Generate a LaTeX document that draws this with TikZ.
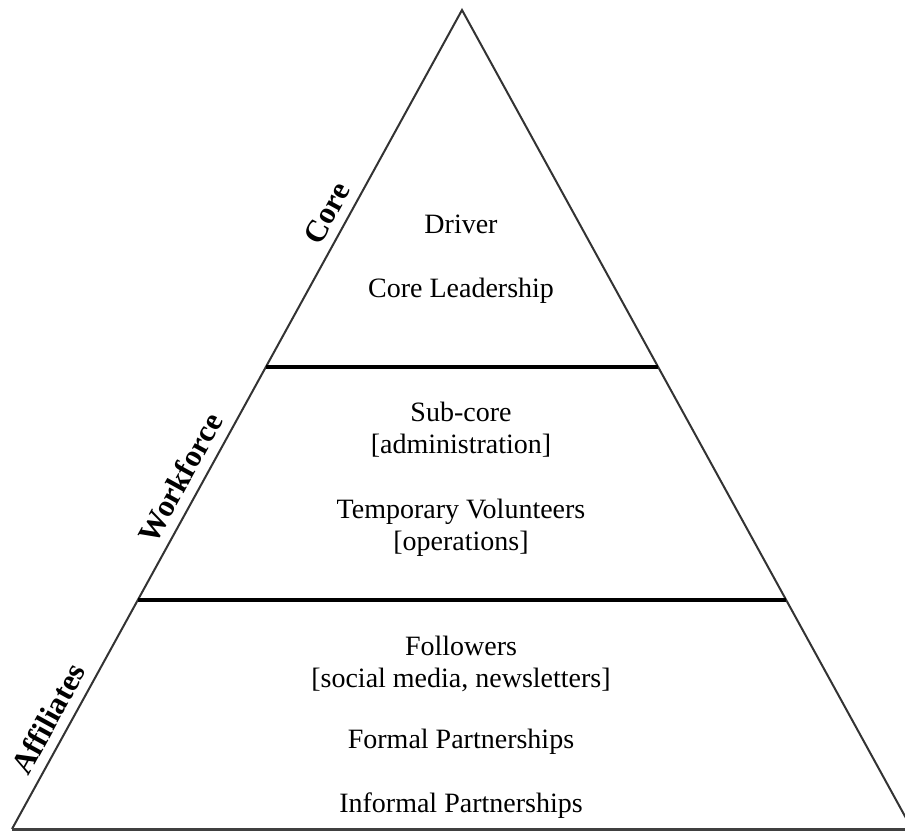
\documentclass[tikz,border=0pt]{standalone}
\usepackage{fontspec}
\setmainfont{Liberation Serif}
\usetikzlibrary{calc}
\tikzset{
  % text inside the tiers
  level/.style={font=\fontsize{14}{15.75}\selectfont, align=center, anchor=base, inner sep=0pt},
  % tier names along the left side
  tier/.style={font=\fontsize{15.5}{18}\selectfont\bfseries, inner sep=1pt},
  % outline and dividers
  side/.style={line width=1pt, black!80},
  divider/.style={line width=1.8pt, black},
}

\begin{document}
\begin{tikzpicture}[x=0.5pt, y=-0.5pt]
  \useasboundingbox (0,0) rectangle (905,831);
  \clip (0,0) rectangle (905,831);

  \coordinate (apex) at (462,10);
  \coordinate (bl) at (12,829);
  \coordinate (br) at (912,829);

  % pyramid
  \draw[side] (bl) -- (apex) -- (br);
  \draw[line width=1.5pt, black!75] (bl) -- (br);

  % tier boundaries
  \draw[divider] ($(bl)!0.5641!(apex)$) -- ($(br)!0.5641!(apex)$);
  \draw[divider] ($(bl)!0.2796!(apex)$) -- ($(br)!0.2796!(apex)$);

  % tier names
  \path (bl) -- (apex)
    node[tier, pos=0.122, sloped, above=4pt] (affil) {Affiliates}
    node[tier, pos=0.416, sloped, above=4pt] (work) {Workforce}
    node[tier, pos=0.74, sloped, above=4pt] (core) {Core};

  % Core
  \node[level] (driver) at (461,233) {Driver};
  \node[level] (lead) at (461,297) {Core Leadership};

  % Workforce (base sits on the last line)
  \node[level] (subcore) at (461,453) {Sub-core\\{[administration]}};
  \node[level] (volunt) at (461,550) {Temporary Volunteers\\{[operations]}};

  % Affiliates
  \node[level] (follow) at (461,687) {Followers\\{[social media, newsletters]}};
  \node[level] (formal) at (461,748) {Formal Partnerships};
  \node[level] (informal) at (461,812) {Informal Partnerships};
\end{tikzpicture}
\end{document}
